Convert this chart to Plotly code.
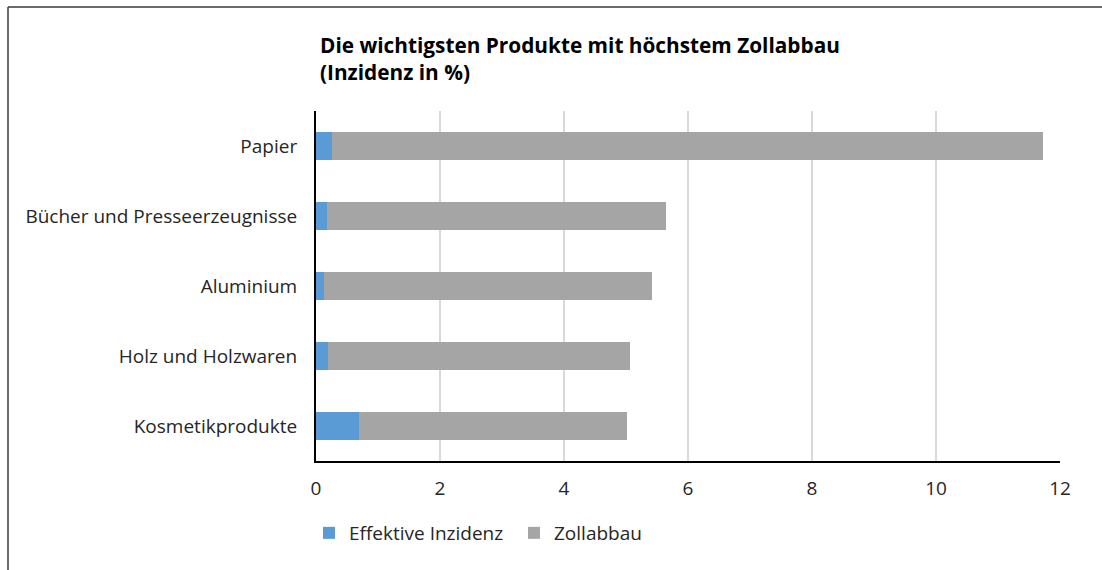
import plotly.graph_objects as go

categories = ["Papier", "Bücher und Presseerzeugnisse", "Aluminium", "Holz und Holzwaren", "Kosmetikprodukte"]
effektive_inzidenz = [0.25, 0.17, 0.13, 0.19, 0.69]
zollabbau = [11.47, 5.47, 5.29, 4.87, 4.33]
x_ticks = [0, 2, 4, 6, 8, 10, 12]

FONT = "Open Sans"
W, H = 1102, 570
L, R, T, B = 316, 42, 111, 109
pw, ph = W - L - R, H - T - B

def px_x(p):
    return (p - L) / pw

def px_y(p):
    return (H - B - p) / ph

fig = go.Figure()
fig.add_trace(go.Bar(
    y=categories, x=effektive_inzidenz, orientation="h",
    name="Effektive Inzidenz", marker=dict(color="#5B9BD5", line=dict(width=0)),
))
fig.add_trace(go.Bar(
    y=categories, x=zollabbau, orientation="h",
    name="Zollabbau", marker=dict(color="#A5A5A5", line=dict(width=0)),
))

fig.update_layout(
    width=W, height=H,
    barmode="stack", bargap=0.61,
    plot_bgcolor="white", paper_bgcolor="white",
    margin=dict(l=L, r=R, t=T, b=B),
    font=dict(family=FONT, size=19, color="#262626"),
    title=dict(
        text="<b>Die wichtigsten Produkte mit höchstem Zollabbau<br>(Inzidenz in %)</b>",
        x=320 / W, xref="container", xanchor="left",
        y=1 - 53 / H, yref="container", yanchor="top",
        font=dict(family=FONT, size=20.8, color="#000000"),
    ),
    xaxis=dict(
        range=[0, 12], tickvals=x_ticks, ticktext=[str(v) for v in x_ticks],
        showgrid=True, gridcolor="#D9D9D9", gridwidth=2,
        zeroline=False, showline=True, linecolor="#000000", linewidth=2,
        ticks="", ticklabelstandoff=9, tickfont=dict(size=19, color="#262626"),
    ),
    yaxis=dict(
        categoryorder="array", categoryarray=categories, autorange="reversed",
        showgrid=False, zeroline=False, showline=True, linecolor="#000000", linewidth=2,
        ticks="", ticklabelstandoff=13, tickfont=dict(size=19, color="#262626"),
    ),
    legend=dict(
        orientation="h", x=px_x(309), xanchor="left", y=px_y(514), yanchor="top",
        font=dict(size=19, color="#262626"), traceorder="normal",
        itemwidth=30, entrywidth=160, entrywidthmode="pixels",
    ),
    showlegend=True,
    shapes=[
        dict(type="line", xref="paper", yref="paper",
             x0=px_x(8), x1=px_x(8), y0=px_y(7), y1=px_y(600),
             line=dict(color="#3a3a3a", width=1.5)),
        dict(type="line", xref="paper", yref="paper",
             x0=px_x(8), x1=px_x(1120), y0=px_y(7), y1=px_y(7),
             line=dict(color="#3a3a3a", width=1.5)),
    ],
)

fig.write_html("out.html", config={"displayModeBar": False},
               post_script="document.body.style.margin='0';document.body.style.overflow='hidden';")
